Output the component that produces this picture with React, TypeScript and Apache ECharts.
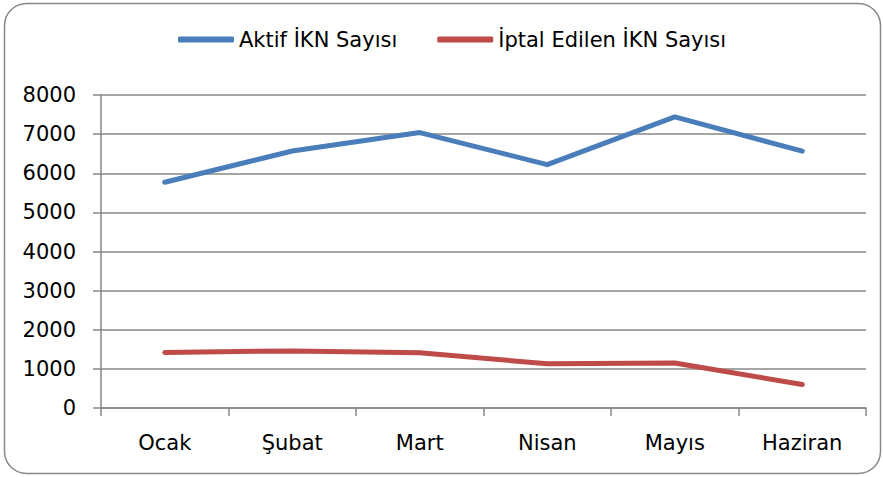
import React, { useEffect, useRef } from "react";
import * as echarts from "echarts";

const categories = ["Ocak", "Şubat", "Mart", "Nisan", "Mayıs", "Haziran"];
const aktifValues = [5770, 6570, 7040, 6220, 7440, 6565];
const iptalValues = [1420, 1460, 1410, 1130, 1150, 600];
const seriesNames = ["Aktif İKN Sayısı", "İptal Edilen İKN Sayısı"];

const FONT = "DejaVu Sans";
const GRAY = "#878787";

export default function App() {
  const ref = useRef<HTMLDivElement>(null);
  useEffect(() => {
    document.body.style.margin = "0";
    const chart = echarts.init(ref.current!, null, { renderer: "svg" });
    chart.setOption({
      animation: false,
      backgroundColor: "#ffffff",
      graphic: [
        {
          type: "rect",
          shape: { x: 4.5, y: 3.5, width: 876, height: 470, r: 22 },
          style: { fill: "none", stroke: GRAY, lineWidth: 1.5 },
          z: -1,
        },
      ],
      legend: {
        left: 173,
        top: 24,
        itemWidth: 56,
        itemHeight: 6,
        itemGap: 40,
        icon: "roundRect",
        textStyle: { fontFamily: FONT, fontSize: 21, color: "#000" },
        data: seriesNames,
      },
      grid: { left: 101, right: 17, top: 95, bottom: 69 },
      xAxis: {
        type: "category",
        data: categories,
        boundaryGap: true,
        axisLine: { show: true, lineStyle: { color: GRAY, width: 1.5 } },
        axisTick: { show: true, length: 8, alignWithLabel: false, lineStyle: { color: GRAY, width: 1.5 } },
        axisLabel: { fontFamily: FONT, fontSize: 21, color: "#000", margin: 24 },
      },
      yAxis: {
        type: "value",
        min: 0,
        max: 8000,
        interval: 1000,
        axisLine: { show: true, lineStyle: { color: GRAY, width: 1.5 } },
        axisTick: { show: true, length: 8, lineStyle: { color: GRAY, width: 1.5 } },
        splitLine: { show: true, lineStyle: { color: GRAY, width: 1.5 } },
        axisLabel: {
          fontFamily: FONT,
          fontSize: 21,
          color: "#000",
          margin: 25,
          formatter: (v: number) => String(v),
        },
      },
      series: [
        {
          name: seriesNames[0],
          type: "line",
          data: aktifValues,
          symbol: "none",
          itemStyle: { color: "#4a7ebb" },
          lineStyle: { color: "#4a7ebb", width: 5, cap: "round", join: "round" },
        },
        {
          name: seriesNames[1],
          type: "line",
          data: iptalValues,
          symbol: "none",
          itemStyle: { color: "#be4b48" },
          lineStyle: { color: "#be4b48", width: 5, cap: "round", join: "round" },
        },
      ],
    });
    return () => chart.dispose();
  }, []);
  return <div ref={ref} style={{ width: 883, height: 477 }} />;
}
